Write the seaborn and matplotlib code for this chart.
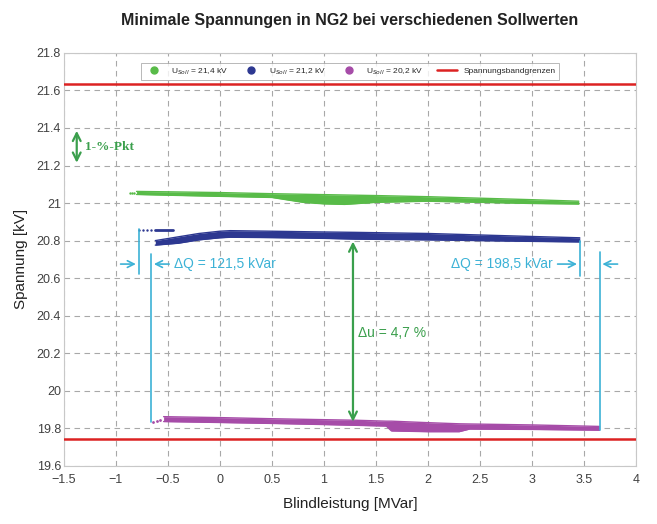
import matplotlib
matplotlib.use("Agg")
import matplotlib.pyplot as plt
from matplotlib.lines import Line2D
import seaborn as sns
import pandas as pd

# ---------------- data ----------------
title = "Minimale Spannungen in NG2 bei verschiedenen Sollwerten"
xlabel = "Blindleistung [MVar]"
ylabel = "Spannung [kV]"
series_labels = ["U$_{Soll}$ = 21,4 kV", "U$_{Soll}$ = 21,2 kV", "U$_{Soll}$ = 20,2 kV"]
limit_label = "Spannungsbandgrenzen"

# envelopes of the point clouds
green_x = [-0.80, -0.50, 0.00, 0.50, 0.80, 1.00, 1.20, 1.50, 2.00, 2.50, 3.00, 3.45]
green_hi = [21.062, 21.060, 21.056, 21.050, 21.047, 21.045, 21.043, 21.040, 21.034, 21.026, 21.018, 21.010]
green_lo = [21.046, 21.042, 21.036, 21.030, 21.004, 20.996, 20.993, 21.004, 21.010, 21.004, 20.998, 20.995]

blue_x = [-0.62, -0.40, -0.20, 0.00, 0.10, 0.50, 1.00, 1.30, 2.00, 2.50, 3.00, 3.46]
blue_hi = [20.800, 20.820, 20.838, 20.850, 20.853, 20.850, 20.846, 20.844, 20.838, 20.830, 20.822, 20.815]
blue_lo = [20.776, 20.786, 20.804, 20.815, 20.818, 20.816, 20.812, 20.808, 20.804, 20.800, 20.796, 20.793]

purple_x = [-0.54, 0.00, 0.50, 1.00, 1.30, 1.60, 1.65, 2.00, 2.30, 2.40, 3.00, 3.65]
purple_hi = [19.862, 19.857, 19.851, 19.846, 19.843, 19.838, 19.838, 19.830, 19.824, 19.823, 19.818, 19.810]
purple_lo = [19.836, 19.831, 19.826, 19.820, 19.816, 19.812, 19.786, 19.782, 19.782, 19.796, 19.794, 19.790]

# isolated start points
green_dots_x = [-0.86, -0.84, -0.82]
green_dots_y = [21.054, 21.054, 21.054]
blue_seg_x = [-0.62, -0.45]
blue_seg_y = [20.855, 20.855]
blue_dots_x = [-0.78, -0.74, -0.70, -0.66]
blue_dots_y = [20.856, 20.856, 20.855, 20.855]
purple_dots_x = [-0.64, -0.60, -0.57]
purple_dots_y = [19.836, 19.840, 19.845]

limits = [21.635, 19.745]

# annotations
dq_left_text = "\u0394Q = 121,5 kVar"
dq_right_text = "\u0394Q = 198,5 kVar"
du_text = "\u0394u = 4,7 %"
pkt_text = "1-%-Pkt"

# ---------------- style ----------------
c_green = "#58bb48"
c_blue = "#2d3891"
c_purple = "#a64ca8"
c_red = "#dc2222"
c_cyan = "#3cb2d6"
c_agreen = "#3a9f4c"

sns.set_theme(style="white")
plt.rcParams["font.family"] = ["Liberation Sans", "DejaVu Sans"]

fig = plt.figure(figsize=(6.57, 5.24), dpi=100)
ax = fig.add_axes([0.097, 0.111, 0.871, 0.788])

def band(x, hi, lo, color):
    df = pd.DataFrame({"x": x + x, "y": hi + lo, "edge": ["hi"] * len(x) + ["lo"] * len(x)})
    sns.lineplot(data=df, x="x", y="y", units="edge", estimator=None, color=color,
                 lw=1.0, ax=ax, legend=False, sort=False)
    ax.fill_between(x, lo, hi, color=color, lw=0, zorder=2)

band(green_x, green_hi, green_lo, c_green)
band(blue_x, blue_hi, blue_lo, c_blue)
band(purple_x, purple_hi, purple_lo, c_purple)

sns.scatterplot(x=green_dots_x, y=green_dots_y, color=c_green, s=3, linewidth=0, ax=ax)
sns.lineplot(x=blue_seg_x, y=blue_seg_y, color=c_blue, lw=2, ax=ax)
sns.scatterplot(x=blue_dots_x, y=blue_dots_y, color=c_blue, s=3, linewidth=0, ax=ax)
sns.scatterplot(x=purple_dots_x, y=purple_dots_y, color=c_purple, s=4, linewidth=0, ax=ax)

for lv in limits:
    ax.axhline(lv, color=c_red, lw=1.8, zorder=3)

ax.set_xlim(-1.5, 4)
ax.set_ylim(19.6, 21.8)
ax.set_xticks([-1.5, -1, -0.5, 0, 0.5, 1, 1.5, 2, 2.5, 3, 3.5, 4])
ax.set_xticklabels(["\u22121.5", "\u22121", "\u22120.5", "0", "0.5", "1", "1.5", "2", "2.5", "3", "3.5", "4"])
ax.set_yticks([19.6, 19.8, 20, 20.2, 20.4, 20.6, 20.8, 21, 21.2, 21.4, 21.6, 21.8])
ax.set_yticklabels(["19.6", "19.8", "20", "20.2", "20.4", "20.6", "20.8", "21", "21.2", "21.4", "21.6", "21.8"])
ax.tick_params(labelsize=9, colors="#404040", length=0)
ax.tick_params(axis="x", pad=6)
ax.tick_params(axis="y", pad=2)
ax.grid(True, color="#a8a8a8", linestyle=(0, (5, 4)), lw=0.8)
for s in ax.spines.values():
    s.set_color("#c8c8c8")
    s.set_linewidth(0.8)

ax.set_xlabel(xlabel, fontsize=11, color="#222222", labelpad=8)
ax.set_ylabel(ylabel, fontsize=11, color="#222222", labelpad=6)
ax.set_title(title, fontsize=11.5, fontweight="bold", color="#222222", pad=20)

# ---- cyan ΔQ annotations ----
cy = 20.675
ax.plot([-0.78, -0.78], [20.862, 20.62], color=c_cyan, lw=1.2, zorder=4)
ax.plot([-0.66, -0.66], [20.73, 19.836], color=c_cyan, lw=1.2, zorder=4)
ax.annotate("", xy=(-0.78, cy), xytext=(-0.98, cy),
            arrowprops=dict(arrowstyle="->", color=c_cyan, lw=1.2))
ax.annotate("", xy=(-0.66, cy), xytext=(-0.46, cy),
            arrowprops=dict(arrowstyle="->", color=c_cyan, lw=1.2))
ax.text(-0.44, cy, dq_left_text, color=c_cyan, fontsize=10, va="center", ha="left")

ax.plot([3.46, 3.46], [20.800, 20.61], color=c_cyan, lw=1.2, zorder=4)
ax.plot([3.65, 3.65], [20.74, 19.792], color=c_cyan, lw=1.2, zorder=4)
ax.annotate("", xy=(3.46, cy), xytext=(3.22, cy),
            arrowprops=dict(arrowstyle="->", color=c_cyan, lw=1.2))
ax.annotate("", xy=(3.65, cy), xytext=(3.85, cy),
            arrowprops=dict(arrowstyle="->", color=c_cyan, lw=1.2))
ax.text(3.2, cy, dq_right_text, color=c_cyan, fontsize=10, va="center", ha="right")

# ---- green Δu arrow ----
ax.annotate("", xy=(1.28, 20.81), xytext=(1.28, 19.82),
            arrowprops=dict(arrowstyle="<->", color=c_agreen, lw=1.6, mutation_scale=14))
ax.text(1.33, 20.31, du_text, color=c_agreen, fontsize=10, va="center", ha="left")

# ---- 1-%-Pkt arrow ----
ax.annotate("", xy=(-1.375, 21.4), xytext=(-1.375, 21.2),
            arrowprops=dict(arrowstyle="<->", color=c_agreen, lw=1.6, mutation_scale=14))
ax.text(-1.30, 21.3, pkt_text, color=c_agreen, fontsize=9.5, fontweight="bold",
        family=["Liberation Serif", "DejaVu Serif"], va="center", ha="left")

# ---- legend ----
handles = [
    Line2D([], [], marker="o", ls="none", color=c_green, markersize=5),
    Line2D([], [], marker="o", ls="none", color=c_blue, markersize=5),
    Line2D([], [], marker="o", ls="none", color=c_purple, markersize=5),
    Line2D([], [], color=c_red, lw=1.8),
]
leg = ax.legend(handles, series_labels + [limit_label], loc="upper center",
                bbox_to_anchor=(0.5, 0.985), ncol=4, fontsize=6, frameon=True,
                fancybox=False, edgecolor="#999999", handlelength=2.4, columnspacing=1.6,
                handletextpad=0.9, borderpad=0.35)
leg.get_frame().set_linewidth(0.6)

fig.savefig("out.png", dpi=100, facecolor="white")
